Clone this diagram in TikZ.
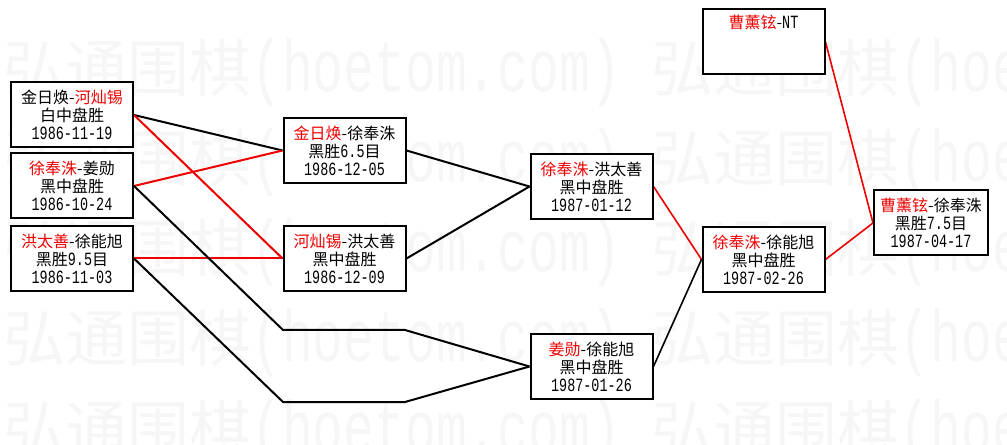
\documentclass[tikz,border=0pt]{standalone}
\usepackage{fontspec}
\setmainfont{Noto Sans CJK SC}
\newfontfamily\datefont{Liberation Mono}[Scale=1.167, FakeStretch=0.72]
\newfontfamily\wmlatin{Liberation Mono}[FakeStretch=0.7]
\usetikzlibrary{backgrounds}
\definecolor{cWin}{HTML}{EE0000}
\definecolor{cMark}{HTML}{F6F6F6}
\newcommand{\win}[1]{\textcolor{cWin}{#1}}
\newcommand{\dt}[1]{{\datefont #1}}
\newcommand{\wmline}{\fontsize{46.5}{50}\selectfont 弘通围棋{\wmlatin\fontsize{55}{60}\selectfont(hoetom.com) }弘通围棋{\wmlatin\fontsize{55}{60}\selectfont(hoetom.com)}}
\tikzset{
  game/.style={draw, line width=1.5pt, fill=white, align=center, inner sep=2pt,
    minimum width=91.5pt, minimum height=48.75pt,
    font=\fontsize{12}{13.5}\selectfont},
  final/.style={game, minimum width=85.5pt},
  bline/.style={draw=black, line width=1.5pt},
  wline/.style={draw=cWin, line width=1.5pt},
  wmtext/.style={text=cMark, inner sep=0pt, anchor=base west},
}

\begin{document}
\begin{tikzpicture}[x=0.75pt, y=-0.75pt]
  \useasboundingbox (0,0) rectangle (1007,445);
  % first round
  \node[game] (b1) at (72,115)    {金日焕-\win{河灿锡}\\白中盘胜\\\dt{1986-11-19}};
  \node[game] (b2) at (72,186)    {\win{徐奉洙}-姜勋\\黑中盘胜\\\dt{1986-10-24}};
  \node[game] (b3) at (72,258.5)  {\win{洪太善}-徐能旭\\黑胜\dt{9.5}目\\\dt{1986-11-03}};
  % second round
  \node[game] (b4) at (344.5,150.5) {\win{金日焕}-徐奉洙\\黑胜\dt{6.5}目\\\dt{1986-12-05}};
  \node[game] (b5) at (344.5,258.5) {\win{河灿锡}-洪太善\\黑中盘胜\\\dt{1986-12-09}};
  % third round
  \node[game] (b6) at (591.5,186.5) {\win{徐奉洙}-洪太善\\黑中盘胜\\\dt{1987-01-12}};
  \node[game] (b8) at (591.5,366.5) {\win{姜勋}-徐能旭\\黑中盘胜\\\dt{1987-01-26}};
  % last rounds
  \node[game] (b7) at (763.5,259.5) {\win{徐奉洙}-徐能旭\\黑中盘胜\\\dt{1987-02-26}};
  \node[game] (b9) at (763.5,42)    {\win{曹薰铉}-\dt{NT}\\\strut\\\strut};
  \node[final] (b10) at (931,223)   {\win{曹薰铉}-徐奉洙\\黑胜\dt{7.5}目\\\dt{1987-04-17}};
  % bends of the lower paths
  \coordinate (k1) at (283,330);
  \coordinate (k2) at (405,330);
  \coordinate (k3) at (283,402);
  \coordinate (k4) at (405,402);
  \begin{scope}[on background layer]
    % watermark
    \begin{scope}
      \clip (0,0) rectangle (1007,445);
      \foreach \yb in {92,182,272,362,452}
        \node[wmtext] (wm\yb) at (3,\yb) {\wmline};
    \end{scope}
    % connectors
    \draw[bline] (b1.east) -- (b4.west);
    \draw[wline] (b2.east) -- (b4.west);
    \draw[wline] (b1.east) -- (b5.west);
    \draw[wline] (b3.east) -- (b5.west);
    \draw[bline] (b2.east) -- (k1) -- (k2) -- (b8.west);
    \draw[bline] (b3.east) -- (k3) -- (k4) -- (b8.west);
    \draw[bline] (b4.east) -- (b6.west);
    \draw[bline] (b5.east) -- (b6.west);
    \draw[wline, line width=1.2pt] (b6.east) -- (b7.west);
    \draw[bline, line width=1.2pt] (b8.east) -- (b7.west);
    \draw[wline, line width=1.2pt] (b7.east) -- (b10.west);
    \draw[wline, line width=1.2pt] (b9.east) -- (b10.west);
  \end{scope}
\end{tikzpicture}
\end{document}
